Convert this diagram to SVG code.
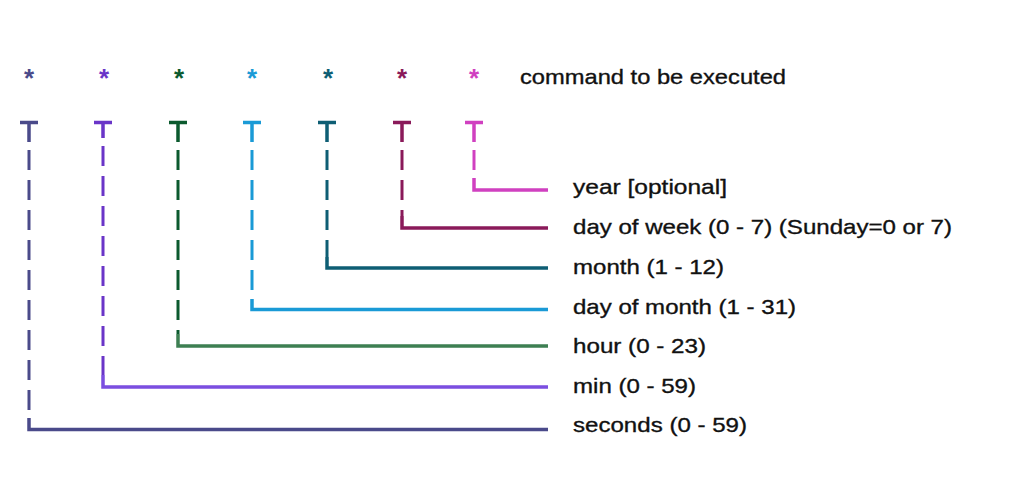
<svg xmlns="http://www.w3.org/2000/svg" width="1024" height="485" viewBox="0 0 1024 485">
<style>
text{font-family:"Liberation Sans",Arial,sans-serif;fill:#111}
.lbl{font-size:21px;stroke:#111;stroke-width:0.35}
.ast{font-size:26px;font-weight:bold;text-anchor:middle}
.t{fill:none;stroke-width:3.5}
.d{fill:none;stroke-width:3;stroke-dasharray:20 10}
.h{fill:none;stroke-width:3.5}
</style>
<rect width="1024" height="485" fill="#fff"/>
<g id="cmd"><text class="lbl" x="520" y="84" textLength="266" lengthAdjust="spacingAndGlyphs">command to be executed</text></g>
<g id="asterisks">
<text class="ast" x="29" y="87" style="fill:#4a4a8a">*</text>
<text class="ast" x="104" y="87" style="fill:#6a35c8">*</text>
<text class="ast" x="179" y="87" style="fill:#0b5a2e">*</text>
<text class="ast" x="252" y="87" style="fill:#1a9ad6">*</text>
<text class="ast" x="328" y="87" style="fill:#0e5e74">*</text>
<text class="ast" x="402" y="87" style="fill:#8a1a5a">*</text>
<text class="ast" x="474" y="87" style="fill:#d040c0">*</text>
</g>
<g id="connectors">
<g stroke="#4a4a8a"><path class="t" d="M20 122.5H38M29 122.5V142"/><path class="d" d="M29 150V418"/><path class="h" d="M29 418V429.5H548"/></g>
<g stroke="#6a35c8"><path class="t" d="M94 122.5H112M103 122.5V138"/><path class="d" d="M103 146V375"/><path class="h" d="M103 375V387H548" stroke="#7b4ee0"/></g>
<g stroke="#0b5a2e"><path class="t" d="M169 122.5H187M178 122.5V142"/><path class="d" d="M178 150V334"/><path class="h" d="M178 334V346H548" stroke="#3d7f52"/></g>
<g stroke="#1a9ad6"><path class="t" d="M243 122.5H261M252 122.5V142"/><path class="d" d="M252 150V299"/><path class="h" d="M252 299V309.5H548"/></g>
<g stroke="#0e5e74"><path class="t" d="M318 122.5H336M327 122.5V142"/><path class="d" d="M327 150V257"/><path class="h" d="M327 257V268H548"/></g>
<g stroke="#8a1a5a"><path class="t" d="M393 122.5H411M402 122.5V142"/><path class="d" d="M402 150V216"/><path class="h" d="M402 216V228H548"/></g>
<g stroke="#d040c0"><path class="t" d="M465 122.5H483M474 122.5V142"/><path class="d" d="M474 150V178"/><path class="h" d="M474 178V190H548"/></g>
</g>
<g id="labels">
<text class="lbl" x="573" y="194" textLength="154" lengthAdjust="spacingAndGlyphs">year [optional]</text>
<text class="lbl" x="573" y="234" textLength="379" lengthAdjust="spacingAndGlyphs">day of week (0 - 7) (Sunday=0 or 7)</text>
<text class="lbl" x="573" y="274" textLength="151" lengthAdjust="spacingAndGlyphs">month (1 - 12)</text>
<text class="lbl" x="573" y="314" textLength="223" lengthAdjust="spacingAndGlyphs">day of month (1 - 31)</text>
<text class="lbl" x="573" y="353" textLength="133" lengthAdjust="spacingAndGlyphs">hour (0 - 23)</text>
<text class="lbl" x="573" y="393" textLength="123" lengthAdjust="spacingAndGlyphs">min (0 - 59)</text>
<text class="lbl" x="573" y="432" textLength="174" lengthAdjust="spacingAndGlyphs">seconds (0 - 59)</text>
</g>
</svg>
